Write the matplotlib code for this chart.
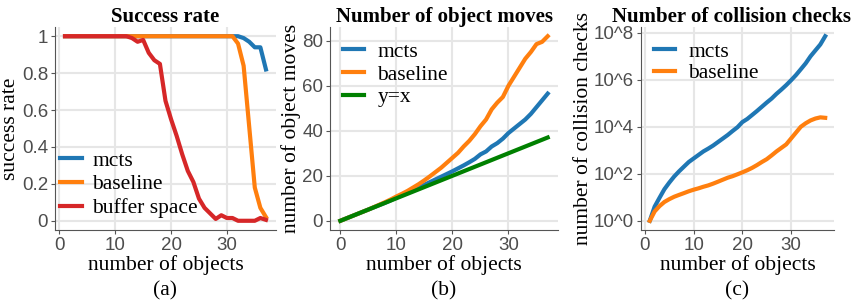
import matplotlib
matplotlib.use("Agg")
import matplotlib.pyplot as plt
from matplotlib.ticker import FixedLocator, NullLocator

# ---- donnees ----
n_obj = list(range(1, 38))
n_obj_b = list(range(0, 38))

# (a) taux de succes
succes_mcts = [1.0] * 31 + [1.0, 0.99, 0.97, 0.94, 0.94, 0.82]
succes_baseline = [1.0] * 31 + [0.96, 0.84, 0.51, 0.18, 0.07, 0.02]
succes_buffer = [1.0] * 12 + [0.99, 0.97, 0.98, 0.91, 0.87, 0.85, 0.65, 0.55,
                              0.46, 0.36, 0.27, 0.21, 0.12, 0.07, 0.04, 0.01,
                              0.03, 0.015, 0.015, 0.0, 0.0, 0.0, 0.0, 0.015, 0.005]

# (b) nombre de deplacements
moves_mcts = [0, 1, 2, 3, 4, 5, 6, 7, 8, 9.1, 10.3, 11.4, 12.5, 13.6, 14.8, 16,
              17.2, 18.4, 19.6, 20.8, 22, 23.3, 24.6, 26, 27.5, 29.5, 30.8, 33,
              34.5, 36.5, 39, 41, 43, 45, 47.5, 50.5, 53.5, 56.5]
moves_baseline = [0, 1, 2, 3, 4, 5, 6.1, 7.2, 8.3, 9.5, 10.8, 12, 13.3, 14.8,
                  16.3, 18, 19.8, 21.7, 23.6, 25.8, 28, 30.2, 33, 35.5, 38.5,
                  42, 45, 49.5, 52.5, 55, 60, 64, 68, 72, 75, 78.5, 79.5, 82]
moves_yx = list(range(0, 38))

# (c) nombre de tests de collision
checks_mcts = [1, 4, 9.5, 22, 42, 76, 126, 200, 316, 447, 631, 891, 1175, 1585,
               2239, 3162, 4467, 6607, 9550, 1.58e4, 2.14e4, 3.16e4, 4.68e4,
               7.08e4, 1.07e5, 1.58e5, 2.51e5, 3.8e5, 5.9e5, 9.5e5, 1.58e6,
               2.8e6, 5.0e6, 1.0e7, 1.78e7, 3.16e7, 7.1e7]
checks_baseline = [1, 2.5, 4.2, 6.3, 8.3, 10.5, 12.6, 15, 18, 21, 24, 28, 32, 38,
                   46, 56, 68, 79, 95, 115, 141, 178, 234, 316, 417, 603, 891,
                   1259, 1778, 3162, 5623, 1e4, 1.41e4, 1.86e4, 2.24e4, 2.51e4,
                   2.4e4]

x_ticks = [0, 10, 20, 30]
y_ticks_a = [0, 0.2, 0.4, 0.6, 0.8, 1.0]
y_labels_a = ["0", "0.2", "0.4", "0.6", "0.8", "1"]
y_ticks_b = [0, 20, 40, 60, 80]
y_ticks_c = [1, 1e2, 1e4, 1e6, 1e8]
y_labels_c = ["10^0", "10^2", "10^4", "10^6", "10^8"]

BLEU = "#1f77b4"
ORANGE = "#ff7f0e"
ROUGE = "#d62728"
VERT = "#008000"
SERIF = "Liberation Serif"
SANS = "Liberation Sans"
LW = 3.0

fig = plt.figure(figsize=(8.55, 3.04), dpi=100)
bas, haut = 0.2434, 0.6678
ax_a = fig.add_axes([0.0643, bas, 0.2585, haut])
ax_b = fig.add_axes([0.386, bas, 0.2667, haut])
ax_c = fig.add_axes([0.7497, bas, 0.2257, haut])


def habiller(ax, titre, ylabel, lettre, titre_x=0.5):
    for s in ["top", "right"]:
        ax.spines[s].set_visible(False)
    for s in ["left", "bottom"]:
        ax.spines[s].set_color("#555555")
        ax.spines[s].set_linewidth(0.8)
    ax.grid(True, color="#e6e6e6", linewidth=1.5)
    ax.set_axisbelow(True)
    ax.tick_params(colors="#555555", labelcolor="#4d4d4d", length=3, width=0.8,
                   labelsize=13.5, pad=2)
    for lab in ax.get_xticklabels() + ax.get_yticklabels():
        lab.set_fontfamily(SANS)
    ax.set_title(titre, fontfamily=SERIF, fontweight="bold", fontsize=15,
                 pad=3, x=titre_x)
    ax.set_xlabel("number of objects", fontfamily=SERIF, fontsize=15.5, labelpad=1)
    ax.set_ylabel(ylabel, fontfamily=SERIF, fontsize=15.5, labelpad=1)
    ax.text(0.5, -0.3, lettre, transform=ax.transAxes, ha="center", va="center",
            fontfamily=SERIF, fontsize=15.5)


# (a)
ax_a.plot(n_obj, succes_mcts, color=BLEU, lw=LW, label="mcts")
ax_a.plot(n_obj, succes_baseline, color=ORANGE, lw=LW, label="baseline")
ax_a.plot(n_obj, succes_buffer, color=ROUGE, lw=LW, label="buffer space")
ax_a.xaxis.set_major_locator(FixedLocator(x_ticks))
ax_a.set_yticks(y_ticks_a)
ax_a.set_yticklabels(y_labels_a)
habiller(ax_a, "Success rate", "success rate", "(a)")
ax_a.legend(loc="lower left", bbox_to_anchor=(-0.035, -0.005), frameon=False,
            prop={"family": SERIF, "size": 15.5}, handlelength=1.0,
            handletextpad=0.5, labelspacing=0.17, borderaxespad=0.2)

# (b)
ax_b.plot(n_obj_b, moves_mcts, color=BLEU, lw=LW, label="mcts")
ax_b.plot(n_obj_b, moves_baseline, color=ORANGE, lw=LW, label="baseline")
ax_b.plot(n_obj_b, moves_yx, color=VERT, lw=LW, label="y=x")
ax_b.xaxis.set_major_locator(FixedLocator(x_ticks))
ax_b.yaxis.set_major_locator(FixedLocator(y_ticks_b))
habiller(ax_b, "Number of object moves", "number of object moves", "(b)")
ax_b.legend(loc="upper left", bbox_to_anchor=(0.0, 0.99), frameon=False,
            prop={"family": SERIF, "size": 15.5}, handlelength=1.0,
            handletextpad=0.6, labelspacing=0.12, borderaxespad=0.2)

# (c)
ax_c.plot(n_obj, checks_mcts, color=BLEU, lw=LW, label="mcts")
ax_c.plot(n_obj, checks_baseline, color=ORANGE, lw=LW, label="baseline")
ax_c.set_yscale("log")
ax_c.xaxis.set_major_locator(FixedLocator(x_ticks))
ax_c.set_yticks(y_ticks_c)
ax_c.set_yticklabels(y_labels_c)
ax_c.yaxis.set_minor_locator(NullLocator())
habiller(ax_c, "Number of collision checks", "number of collision checks", "(c)",
         titre_x=0.47)
ax_c.legend(loc="upper left", bbox_to_anchor=(0.0, 0.99), frameon=False,
            prop={"family": SERIF, "size": 15.5}, handlelength=1.0,
            handletextpad=0.6, labelspacing=0.05, borderaxespad=0.2)

fig.savefig("out.png", dpi=100)
